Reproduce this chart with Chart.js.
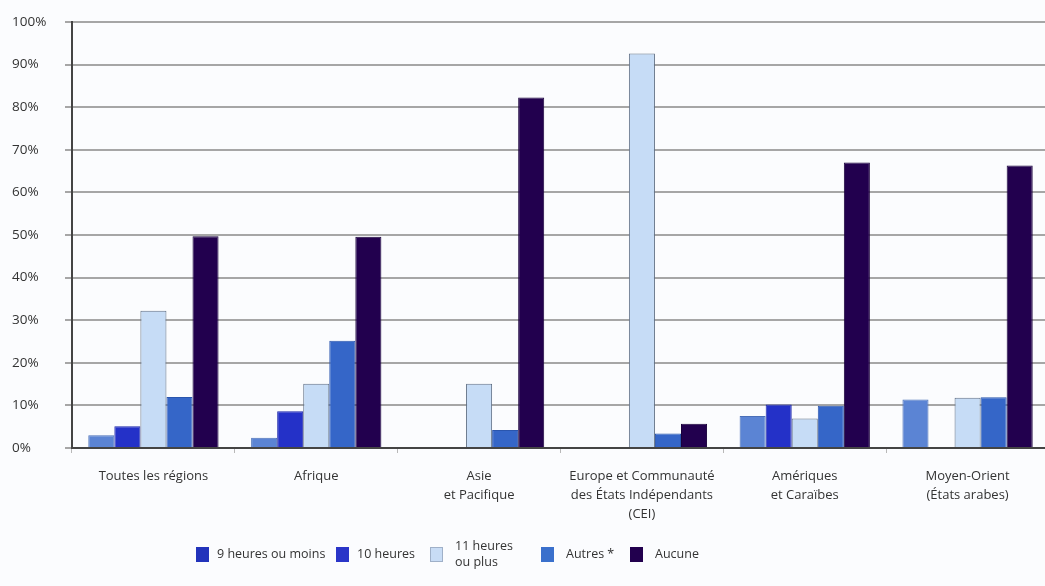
<!DOCTYPE html>
<html>
<head>
<meta charset="utf-8">
<script src="https://cdn.jsdelivr.net/npm/chart.js@4/dist/chart.umd.min.js"></script>
<style>
  html, body { margin: 0; padding: 0; background: #fbfcfe; overflow: hidden; }
  #wrap { position: relative; width: 1052px; height: 586px; }
  #legende { position: absolute; left: 0; top: 536px; width: 1045px; font-family: "Open Sans", sans-serif;
    font-size: 12.5px; color: #333; }
  .item { position: absolute; display: flex; align-items: center; height: 36px; }
  .box { width: 13px; height: 15px; margin-right: 8px; box-sizing: border-box; }
  .txt { line-height: 16px; }
</style>
</head>
<body>
<div id="wrap">
  <canvas id="grafica" width="1052" height="586"></canvas>
  <div id="legende"></div>
</div>
<script>
// Graphique : heures de travail par région (en %)

var regions = [
    'Toutes les régions',
    'Afrique',
    ['Asie', 'et Pacifique'],
    ['Europe et Communauté', 'des États Indépendants', '(CEI)'],
    ['Amériques', 'et Caraïbes'],
    ['Moyen-Orient', '(États arabes)']
];

var series = ['9 heures ou moins', '10 heures', '11 heures\nou plus', 'Autres *', 'Aucune'];

var neufHeuresOuMoins = [3.0, 2.4, 0, 0, 7.5, 11.4];
var dixHeures = [5.1, 8.6, 0, 0, 10.2, 0];
var onzeHeuresOuPlus = [32.2, 15.1, 15.1, 92.6, 6.9, 11.8];
var autres = [12.0, 25.2, 4.2, 3.4, 9.9, 11.9];
var aucune = [49.7, 49.6, 82.3, 5.7, 67.0, 66.3];

var ticksY = [0, 10, 20, 30, 40, 50, 60, 70, 80, 90, 100];

var couleurs = ['#5b84d4', '#2431c8', '#c6dcf6', '#3566c8', '#22004e'];
var bordures = ['#4a6fb8', '#1c26a8', '#5f6f85', '#2a55ad', '#1a003c'];
var couleursLegende = ['#2233bb', '#2a35c8', '#c8dcf5', '#3a70cc', '#22004e'];
var positionsLegende = [196, 336, 430, 541, 630];

var valeurs = [neufHeuresOuMoins, dixHeures, onzeHeuresOuPlus, autres, aucune];
var datasets = [];
for (var i = 0; i < series.length; i++) {
    datasets.push({
        label: series[i],
        data: valeurs[i],
        backgroundColor: couleurs[i],
        borderColor: bordures[i],
        borderWidth: 1,
        categoryPercentage: 0.8,
        barPercentage: 1.0
    });
}

// Légende HTML (libellés sur deux lignes)
var legende = document.getElementById('legende');
for (var i = 0; i < series.length; i++) {
    var item = document.createElement('div');
    item.className = 'item';
    item.style.left = positionsLegende[i] + 'px';
    var box = document.createElement('div');
    box.className = 'box';
    box.style.background = couleursLegende[i];
    if (i === 2) box.style.border = '1px solid #9fb0c8';
    if (i >= 2) box.style.marginRight = '12px';
    var txt = document.createElement('div');
    txt.className = 'txt';
    txt.innerHTML = series[i].replace('\n', '<br>');
    item.appendChild(box);
    item.appendChild(txt);
    legende.appendChild(item);
}

var context = document.getElementById('grafica').getContext('2d');
var chart = new Chart(context, {
    type: 'bar',
    data: {
        labels: regions,
        datasets: datasets
    },
    options: {
        responsive: false,
        animation: false,
        layout: { padding: { left: 12, top: 22, right: 3, bottom: 0 } },
        plugins: {
            legend: { display: false },
            tooltip: { enabled: false }
        },
        scales: {
            x: {
                grid: {
                    offset: true,
                    drawOnChartArea: false,
                    drawTicks: true,
                    tickLength: 5,
                    color: '#b8b8b8'
                },
                border: { color: '#444', width: 2 },
                ticks: {
                    color: '#333',
                    padding: 14,
                    font: { family: 'Open Sans', size: 13, lineHeight: 1.45 },
                    maxRotation: 0,
                    autoSkip: false
                },
                afterFit: function (scale) { scale.height = 138; }
            },
            y: {
                min: 0,
                max: 100,
                afterBuildTicks: function (scale) {
                    scale.ticks = ticksY.map(function (v) { return { value: v }; });
                },
                grid: {
                    color: '#a6a6a6',
                    lineWidth: 2,
                    tickLength: 7
                },
                border: { color: '#444', width: 2 },
                ticks: {
                    color: '#333',
                    crossAlign: 'far',
                    padding: 4,
                    font: { family: 'Open Sans', size: 13.5 },
                    callback: function (v) { return v + '%'; }
                },
                afterFit: function (scale) { scale.width = 60; }
            }
        }
    }
});
</script>
</body>
</html>
